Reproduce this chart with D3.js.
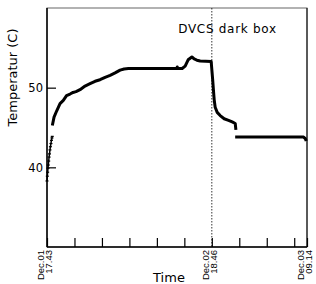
<!DOCTYPE html>
<html>
<head>
<meta charset="utf-8">
<script src="https://cdn.jsdelivr.net/npm/d3@7"></script>
<style>
  body { margin: 0; background: #fff; }
  svg { display: block; font-family: "DejaVu Sans", sans-serif; }
</style>
</head>
<body>
<script>
// elapsed hours since Dec.01 17.43, temperatures in C
var seg1Hours = [0, 0.05, 0.1, 0.15, 0.2, 0.26, 0.32, 0.38, 0.45, 0.52, 0.6, 0.68, 0.75, 0.8];
var seg1Temps = [38.3, 38.9, 39.4, 39.9, 40.3, 40.8, 41.3, 41.7, 42.2, 42.6, 43.0, 43.4, 43.7, 43.9];

var seg2Hours = [0.81, 1.07, 1.48, 1.98, 2.48, 2.97, 3.5, 3.96, 4.41, 5.02, 5.78, 6.54, 7.3, 8.06, 8.83, 9.59,
    10.35, 11.11, 11.72, 12.37, 19.74, 19.8, 19.9, 20.54, 21.0, 21.45, 22.02, 22.37, 22.78, 23.28, 24.95,
    25.06, 25.18, 25.3, 25.41, 25.56, 25.87, 26.32, 26.93, 27.59, 28.15, 28.61, 28.71];
var seg2Temps = [45.25, 46.3, 47.1, 48.0, 48.4, 49.0, 49.2, 49.4, 49.5, 49.75, 50.2, 50.5, 50.8, 51.0, 51.3, 51.55,
    51.85, 52.2, 52.35, 52.4, 52.4, 52.6, 52.4, 52.4, 52.7, 53.5, 53.85, 53.6, 53.45, 53.35, 53.3,
    52.2, 51.0, 49.65, 48.5, 47.55, 46.9, 46.5, 46.1, 45.9, 45.7, 45.5, 44.7];

var seg3Hours = [28.6, 39.0, 39.26, 39.4];
var seg3Temps = [43.8, 43.8, 43.6, 43.3];

var tickHours = [0, 4.175, 8.35, 12.525, 16.7, 20.875, 25.05, 29.225, 33.4, 37.575, 39.517];
var labelHours = [0, 25.05, 39.517];
var labelDays = ["Dec.01", "Dec.02", "Dec.03"];
var labelTimes = ["17.43", "18.46", "09.14"];
var yTicks = [40, 50];
var markerHours = 25.05;

var width = 316, height = 284;
var margin = {top: 8, right: 9, bottom: 37, left: 47};

var start = new Date(2000, 11, 1, 17, 43);
function toDate(h) { return new Date(start.getTime() + h * 3600e3); }

var svg = d3.select("body").append("svg")
    .attr("width", width)
    .attr("height", height);

var x = d3.scaleTime()
    .domain([start, toDate(39.517)])
    .range([margin.left, width - margin.right]);

var y = d3.scaleLinear()
    .domain([30, 60])
    .range([height - margin.bottom, margin.top]);

// frame
svg.append("rect")
    .attr("x", margin.left)
    .attr("y", margin.top)
    .attr("width", width - margin.left - margin.right)
    .attr("height", height - margin.top - margin.bottom)
    .attr("fill", "none")
    .attr("stroke", "#666")
    .attr("stroke-width", 1);
svg.append("line")
    .attr("x1", width - margin.right).attr("x2", width - margin.right)
    .attr("y1", margin.top).attr("y2", height - margin.bottom)
    .attr("stroke", "#000");

// axes
var xAxis = svg.append("g")
    .attr("transform", "translate(0," + (height - margin.bottom) + ")")
    .call(d3.axisBottom(x)
        .tickValues(tickHours.map(toDate))
        .tickSizeInner(-9)
        .tickSizeOuter(0)
        .tickFormat(""));
xAxis.select(".domain").remove();
xAxis.selectAll(".tick line").attr("stroke", "#000").attr("stroke-width", 1.2);

var yAxis = svg.append("g")
    .attr("transform", "translate(" + margin.left + ",0)")
    .call(d3.axisLeft(y)
        .tickValues(yTicks)
        .tickSizeInner(-9)
        .tickSizeOuter(0)
        .tickPadding(4));
yAxis.select(".domain").remove();
yAxis.selectAll(".tick line").attr("stroke", "#000").attr("stroke-width", 1.2);
yAxis.selectAll(".tick text")
    .attr("font-family", "DejaVu Sans, sans-serif")
    .attr("font-size", 11.5)
    .attr("fill", "#000");

svg.append("line")
    .attr("x1", margin.left).attr("x2", margin.left)
    .attr("y1", margin.top).attr("y2", height - margin.bottom)
    .attr("stroke", "#000").attr("stroke-width", 1.5);
svg.append("line")
    .attr("x1", margin.left).attr("x2", width - margin.right)
    .attr("y1", height - margin.bottom).attr("y2", height - margin.bottom)
    .attr("stroke", "#000").attr("stroke-width", 1.5);

// date labels, two rotated lines each
var lab = svg.append("g").selectAll("g")
    .data(labelHours)
    .enter().append("g")
    .attr("transform", function (d) { return "translate(" + x(toDate(d)) + "," + (height - margin.bottom + 3) + ") rotate(-90)"; });
lab.append("text")
    .attr("y", -3)
    .attr("text-anchor", "end")
    .attr("font-family", "Liberation Sans Narrow, Liberation Sans, sans-serif")
    .attr("font-size", 9.5)
    .text(function (d, i) { return labelDays[i]; });
lab.append("text")
    .attr("y", 5)
    .attr("text-anchor", "end")
    .attr("font-family", "Liberation Sans Narrow, Liberation Sans, sans-serif")
    .attr("font-size", 9.5)
    .text(function (d, i) { return labelTimes[i]; });

// dark box marker
svg.append("line")
    .attr("x1", x(toDate(markerHours))).attr("x2", x(toDate(markerHours)))
    .attr("y1", margin.top).attr("y2", height - margin.bottom)
    .attr("stroke", "#000")
    .attr("stroke-width", 0.8)
    .attr("stroke-dasharray", "1.5,1.5");

svg.append("text")
    .attr("x", 227.5)
    .attr("y", 33)
    .attr("text-anchor", "middle")
    .attr("font-size", 12)
    .attr("letter-spacing", 0.7)
    .text("DVCS dark box");

// temperature curve
var line = d3.line()
    .x(function (d) { return x(toDate(d[0])); })
    .y(function (d) { return y(d[1]); });

var seg1 = d3.zip(seg1Hours, seg1Temps);
var seg2 = d3.zip(seg2Hours, seg2Temps);
var seg3 = d3.zip(seg3Hours, seg3Temps);

svg.append("path")
    .datum(seg1)
    .attr("d", line)
    .attr("fill", "none")
    .attr("stroke", "#000")
    .attr("stroke-width", 1.5);
svg.append("g").selectAll("rect")
    .data(seg1)
    .enter().append("rect")
    .attr("x", function (d) { return x(toDate(d[0])) - 1.5; })
    .attr("y", function (d) { return y(d[1]) - 0.5; })
    .attr("width", 3)
    .attr("height", 1.2)
    .attr("fill", "#000");

[seg2, seg3].forEach(function (s) {
    svg.append("path")
        .datum(s)
        .attr("d", line)
        .attr("fill", "none")
        .attr("stroke", "#000")
        .attr("stroke-width", 3)
        .attr("stroke-linejoin", "round");
});

// axis titles
svg.append("text")
    .attr("x", 169)
    .attr("y", 282)
    .attr("text-anchor", "middle")
    .attr("font-size", 13)
    .text("Time");

svg.append("text")
    .attr("transform", "translate(17," + ((margin.top + height - margin.bottom) / 2 - 50) + ") rotate(-90)")
    .attr("text-anchor", "middle")
    .attr("font-size", 13)
    .text("Temperatur (C)");
</script>
</body>
</html>
